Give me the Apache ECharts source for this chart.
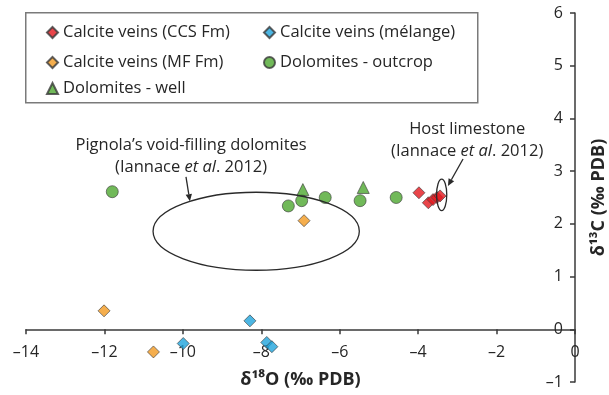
<!DOCTYPE html>
<html>
<head>
<meta charset="utf-8">
<script src="https://cdn.jsdelivr.net/npm/echarts@6/dist/echarts.min.js"></script>
<style>
  html, body { margin: 0; padding: 0; background: #fff; }
  #chart { width: 609px; height: 395px; }
</style>
</head>
<body>
<div id="chart"></div>
<script>
// Stable isotope data, [δ18O, δ13C] in ‰ PDB
const calciteCCS = [[-3.98, 2.59], [-3.74, 2.40], [-3.62, 2.46], [-3.52, 2.50], [-3.44, 2.53]];
const calciteMelange = [[-8.29, 0.16], [-9.99, -0.27], [-7.86, -0.25], [-7.73, -0.33]];
const calciteMF = [[-12.01, 0.35], [-10.75, -0.43], [-6.91, 2.06]];
const dolOutcrop = [[-11.80, 2.61], [-7.31, 2.34], [-6.97, 2.44], [-6.37, 2.50], [-5.48, 2.44], [-4.56, 2.50]];
const dolWell = [[-6.94, 2.65], [-5.40, 2.69]];

const seriesNames = [
  'Calcite veins (CCS Fm)', 'Calcite veins (mélange)',
  'Calcite veins (MF Fm)', 'Dolomites - outcrop', 'Dolomites - well'
];

// Axis ranges
const xRange = [-14, 0];
const yRange = [-1, 6];

// Literature fields: centre and semi-axes in data units [cx, cy, rx, ry]
const fields = [[-8.13, 1.86, 2.63, 0.74], [-3.40, 2.55, 0.13, 0.30]];
// Pointer arrows [x1, y1, x2, y2] in data units
const arrows = [[-9.92, 2.89, -9.82, 2.43], [-2.855, 3.23, -3.24, 2.72]];
// Field captions anchored at their centre [x, y]
const noteAnchors = [[-9.79, 3.29], [-2.75, 3.59]];
const noteTexts = [
  "Pignola’s void-filling dolomites\n(Iannace {i|et al}. 2012)",
  "Host limestone\n(Iannace {i|et al}. 2012)"
];

const FONT = 'Open Sans';
const INK = '#262626';
const AXIS = '#3a3a3a';

const W = 609, H = 395;
const plot = { left: 26, right: 34, top: 13, bottom: 13 };
// The δ18O axis sits on δ13C = 0: a second grid ends exactly there
const plotH = H - plot.top - plot.bottom;
const zeroBottom = plot.bottom + plotH * (0 - yRange[0]) / (yRange[1] - yRange[0]);

const fmt = v => (v < 0 ? '\u2013' + Math.abs(v) : String(v));

const markerStyle = color => ({ color, borderColor: AXIS, borderWidth: 0.8 });

const legendBase = {
  orient: 'horizontal', padding: 0, itemWidth: 11, itemHeight: 11,
  textStyle: { fontFamily: FONT, fontSize: 16.5, color: INK }
};

const chart = echarts.init(document.getElementById('chart'), null, { renderer: 'canvas' });

chart.setOption({
  animation: false,
  backgroundColor: '#fff',
  textStyle: { fontFamily: FONT },
  grid: [
    Object.assign({ containLabel: false, outerBoundsMode: 'none' }, plot),
    { left: plot.left, right: plot.right, top: plot.top, bottom: zeroBottom, containLabel: false, outerBoundsMode: 'none' }
  ],
  legend: [
    Object.assign({ data: [seriesNames[0]], left: 46, top: 24 }, legendBase),
    Object.assign({ data: [seriesNames[1]], left: 263, top: 24 }, legendBase),
    Object.assign({ data: [seriesNames[2]], left: 46, top: 54 }, legendBase),
    Object.assign({ data: [seriesNames[3]], left: 263, top: 54 }, legendBase),
    Object.assign({ data: [seriesNames[4]], left: 46, top: 80 }, legendBase)
  ],
  graphic: [{
    type: 'rect', left: 25, top: 12, z: -1,
    shape: { width: 452, height: 90 },
    style: { fill: '#fff', stroke: '#7a7a7a', lineWidth: 1.5 }
  }],
  xAxis: [
    {
      gridIndex: 0, type: 'value', min: xRange[0], max: xRange[1], interval: 2,
      axisLine: { show: false }, axisTick: { show: false }, axisLabel: { show: false },
      splitLine: { show: false }
    },
    {
      gridIndex: 1, type: 'value', min: xRange[0], max: xRange[1], interval: 2, position: 'bottom',
      name: 'δ¹⁸O (‰ PDB)', nameLocation: 'middle', nameGap: 42,
      nameTextStyle: { fontFamily: FONT, fontSize: 18, fontWeight: 'bold', color: INK },
      axisLine: { onZero: false, lineStyle: { color: AXIS, width: 1.5 } },
      axisTick: { show: true, length: 5, lineStyle: { color: AXIS, width: 1.5 } },
      axisLabel: { formatter: fmt, margin: 15, fontFamily: FONT, fontSize: 16, color: INK },
      splitLine: { show: false }
    }
  ],
  yAxis: [
    {
      gridIndex: 0, type: 'value', min: yRange[0], max: yRange[1], interval: 1, position: 'right',
      name: 'δ¹³C (‰ PDB)', nameLocation: 'middle', nameGap: 15, nameRotate: 90,
      nameTextStyle: { fontFamily: FONT, fontSize: 18, fontWeight: 'bold', color: INK },
      axisLine: { onZero: false, lineStyle: { color: AXIS, width: 1.5 } },
      axisTick: { show: true, inside: true, length: 5, lineStyle: { color: AXIS, width: 1.5 } },
      axisLabel: { inside: true, formatter: fmt, margin: 12, fontFamily: FONT, fontSize: 16, color: INK },
      splitLine: { show: false }
    },
    {
      gridIndex: 1, type: 'value', min: 0, max: yRange[1], show: false, splitLine: { show: false }
    }
  ],
  series: [
    { name: seriesNames[0], type: 'scatter', symbol: 'diamond', symbolSize: 12, data: calciteCCS, itemStyle: markerStyle('#e3161d'), z: 3 },
    { name: seriesNames[1], type: 'scatter', symbol: 'diamond', symbolSize: 12, data: calciteMelange, itemStyle: markerStyle('#1fa4dc'), z: 3 },
    { name: seriesNames[2], type: 'scatter', symbol: 'diamond', symbolSize: 12, data: calciteMF, itemStyle: markerStyle('#f39a21'), z: 3 },
    { name: seriesNames[3], type: 'scatter', symbol: 'circle', symbolSize: 12, data: dolOutcrop, itemStyle: markerStyle('#4ea82f'), z: 3 },
    { name: seriesNames[4], type: 'scatter', symbol: 'triangle', symbolSize: 12, data: dolWell, itemStyle: markerStyle('#4ea82f'), z: 3 },
    {
      type: 'custom', name: 'fields', data: fields, z: 4, silent: true,
      encode: { x: 0, y: 1 },
      renderItem: (params, api) => {
        const c = api.coord([api.value(0), api.value(1)]);
        const s = api.size([api.value(2), api.value(3)]);
        return {
          type: 'ellipse',
          shape: { cx: c[0], cy: c[1], rx: s[0], ry: s[1] },
          style: { fill: 'none', stroke: '#2a2a2a', lineWidth: 1.3 }
        };
      }
    },
    {
      type: 'custom', name: 'arrows', data: arrows, z: 4, silent: true,
      encode: { x: [0, 2], y: [1, 3] },
      renderItem: (params, api) => {
        const a = api.coord([api.value(0), api.value(1)]);
        const b = api.coord([api.value(2), api.value(3)]);
        const dx = b[0] - a[0], dy = b[1] - a[1];
        const len = Math.hypot(dx, dy);
        const ux = dx / len, uy = dy / len;
        const hl = 7, hw = 3.2;
        const base = [b[0] - ux * hl, b[1] - uy * hl];
        return {
          type: 'group',
          children: [
            { type: 'line', shape: { x1: a[0], y1: a[1], x2: base[0], y2: base[1] },
              style: { stroke: '#2a2a2a', lineWidth: 1.3 } },
            { type: 'polygon',
              shape: { points: [b, [base[0] - uy * hw, base[1] + ux * hw], [base[0] + uy * hw, base[1] - ux * hw]] },
              style: { fill: '#2a2a2a' } }
          ]
        };
      }
    },
    {
      type: 'custom', name: 'notes', data: noteAnchors, z: 4, silent: true,
      encode: { x: 0, y: 1 },
      renderItem: (params, api) => {
        const c = api.coord([api.value(0), api.value(1)]);
        return {
          type: 'text', x: c[0], y: c[1],
          style: {
            text: noteTexts[params.dataIndex],
            align: 'center', verticalAlign: 'middle',
            fontFamily: FONT, fontSize: 16.5, lineHeight: 22, fill: INK,
            rich: { i: { fontStyle: 'italic', fontFamily: FONT, fontSize: 16.5, lineHeight: 22, fill: INK } }
          }
        };
      }
    }
  ]
});
</script>
</body>
</html>
